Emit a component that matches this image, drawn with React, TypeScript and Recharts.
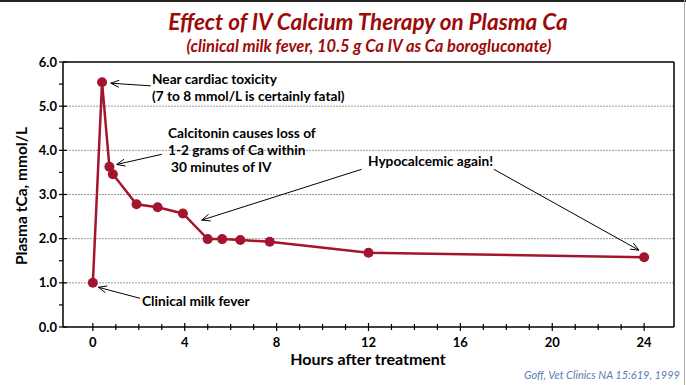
import React from 'react';
import { LineChart, Line, XAxis, YAxis, ReferenceLine } from 'recharts';

const hours = [0, 0.4, 0.72, 0.87, 1.9, 2.82, 3.92, 5.0, 5.63, 6.42, 7.7, 12, 24];
const plasmaCa = [1.0, 5.54, 3.63, 3.46, 2.78, 2.71, 2.57, 1.99, 1.99, 1.97, 1.93, 1.68, 1.58];
const xTicks = [0, 1, 2, 3, 4, 5, 6, 7, 8, 9, 10, 11, 12, 13, 14, 15, 16, 17, 18, 19, 20, 21, 22, 23, 24];
const yTicks = [0, 0.5, 1, 1.5, 2, 2.5, 3, 3.5, 4, 4.5, 5, 5.5, 6];
const gridValues = [1, 2, 3, 4, 5];

const arrows = [
  { from: { x: 2.52, y: 5.46 }, to: { x: 0.78, y: 5.52 } },
  { from: { x: 3.0, y: 3.91 }, to: { x: 1.04, y: 3.68 } },
  { from: { x: 11.7, y: 3.57 }, to: { x: 4.74, y: 2.42 } },
  { from: { x: 17.46, y: 3.57 }, to: { x: 23.77, y: 1.74 } },
  { from: { x: 2.05, y: 0.65 }, to: { x: 0.24, y: 0.9 } },
];

const data = hours.map((h, i) => ({ h, ca: plasmaCa[i] }));

const FONT = 'Lato, "Open Sans", sans-serif';
const RED = '#A3152F';

const XTick = (props: any) => {
  const { x, y, payload } = props;
  const v = payload.value;
  const major = v % 4 === 0;
  return (
    <g>
      <line x1={x} x2={x} y1={y - (major ? 4 : 3)} y2={y + (major ? 4 : 3)} stroke="#000" strokeWidth={1.2} />
      {major && (
        <text x={x} y={y + 19.5} textAnchor="middle" fontFamily={FONT} fontWeight="bold" fontSize={13} fill="#000">
          {v}
        </text>
      )}
    </g>
  );
};

const YTick = (props: any) => {
  const { x, y, payload } = props;
  const v = payload.value;
  const major = Number.isInteger(v);
  return (
    <g>
      <line x1={x - 4} x2={major ? x + 4 : x} y1={y} y2={y} stroke="#000" strokeWidth={1.2} />
      {major && (
        <text x={x - 6} y={y + 4.5} textAnchor="end" fontFamily={FONT} fontWeight="bold" fontSize={13} fill="#000">
          {v.toFixed(1)}
        </text>
      )}
    </g>
  );
};

const ArrowShape = (props: any) => {
  const { x1, y1, x2, y2 } = props;
  if ([x1, y1, x2, y2].some((n) => typeof n !== 'number' || isNaN(n))) return <g />;
  const ang = Math.atan2(y2 - y1, x2 - x1);
  const L = 9;
  const a = 0.4;
  const hx1 = x2 - L * Math.cos(ang - a);
  const hy1 = y2 - L * Math.sin(ang - a);
  const hx2 = x2 - L * Math.cos(ang + a);
  const hy2 = y2 - L * Math.sin(ang + a);
  return (
    <g>
      <line x1={x1} y1={y1} x2={x2} y2={y2} stroke="#000" strokeWidth={1} />
      <polyline points={`${hx1},${hy1} ${x2},${y2} ${hx2},${hy2}`} fill="none" stroke="#000" strokeWidth={1} />
    </g>
  );
};

export default function App() {
  return (
    <div style={{ position: 'absolute', left: 0, top: 0, width: 686, height: 385, background: '#fff', overflow: 'hidden' }}>
      <LineChart width={686} height={385} data={data} margin={{ top: 62, right: 12, bottom: 28, left: 8 }}>
        <XAxis
          dataKey="h"
          type="number"
          domain={[-1.3, 25.3]}
          ticks={xTicks}
          interval={0}
          allowDataOverflow
          tickSize={0}
          tickMargin={0}
          tickLine={false}
          tick={<XTick />}
          height={30}
          axisLine={{ stroke: '#000', strokeWidth: 1.5 }}
        />
        <YAxis
          type="number"
          domain={[0, 6]}
          ticks={yTicks}
          interval={0}
          tickSize={0}
          tickMargin={0}
          tickLine={false}
          tick={<YTick />}
          width={55}
          axisLine={{ stroke: '#000', strokeWidth: 1.5 }}
        />
        {gridValues.map((g) => (
          <ReferenceLine key={g} y={g} stroke="#9a9a9a" strokeWidth={1} strokeDasharray="2 1" />
        ))}
        <ReferenceLine y={6} stroke="#000" strokeWidth={1.5} />
        <ReferenceLine x={25.3} stroke="#000" strokeWidth={1.5} />
        {arrows.map((a, i) => (
          <ReferenceLine key={'a' + i} segment={[a.from, a.to]} shape={ArrowShape} ifOverflow="visible" />
        ))}
        <Line
          dataKey="ca"
          stroke={RED}
          strokeWidth={2.5}
          dot={{ r: 5, fill: RED, stroke: RED, strokeWidth: 0 }}
          isAnimationActive={false}
        />
      </LineChart>
      <svg width={686} height={385} style={{ position: 'absolute', left: 0, top: 0, pointerEvents: 'none' }}>
        <text x={368} y={30} textAnchor="middle" fontFamily={FONT} fontWeight="bold" fontStyle="italic" fontSize={22.5} fill="#9C0A0A">
          Effect of IV Calcium Therapy on Plasma Ca
        </text>
        <text x={369} y={52} textAnchor="middle" fontFamily={FONT} fontWeight="bold" fontStyle="italic" fontSize={16.5} fill="#9C0A0A">
          (clinical milk fever, 10.5 g Ca IV as Ca borogluconate)
        </text>
        <g fontFamily={FONT} fontWeight="bold" fontSize={13.7} fill="#000">
          <text x={152} y={84}>Near cardiac toxicity</text>
          <text x={152} y={101}>(7 to 8 mmol/L is certainly fatal)</text>
          <text x={168} y={138}>Calcitonin causes loss of</text>
          <text x={168} y={155}>1-2 grams of Ca within</text>
          <text x={171} y={172}>30 minutes of IV</text>
          <text x={368} y={166}>Hypocalcemic again!</text>
          <text x={142} y={306}>Clinical milk fever</text>
        </g>
        <text
          x={23}
          y={196}
          transform="rotate(-90 23 196)"
          textAnchor="middle"
          fontFamily={FONT}
          fontWeight="bold"
          fontSize={15.5}
          fill="#000"
          dominantBaseline="middle"
        >
          Plasma tCa, mmol/L
        </text>
        <text x={368} y={365} textAnchor="middle" fontFamily={FONT} fontWeight="bold" fontSize={16} fill="#000">
          Hours after treatment
        </text>
        <text x={680} y={379} textAnchor="end" fontFamily={FONT} fontStyle="italic" fontSize={11} fill="#5A7DB5">
          Goff, Vet Clinics NA 15:619, 1999
        </text>
      </svg>
      <div style={{ position: 'absolute', left: 0, top: 0, width: 686, height: 2, background: '#222' }} />
      <div style={{ position: 'absolute', left: 684, top: 0, width: 1, height: 385, background: '#aaa' }} />
    </div>
  );
}
